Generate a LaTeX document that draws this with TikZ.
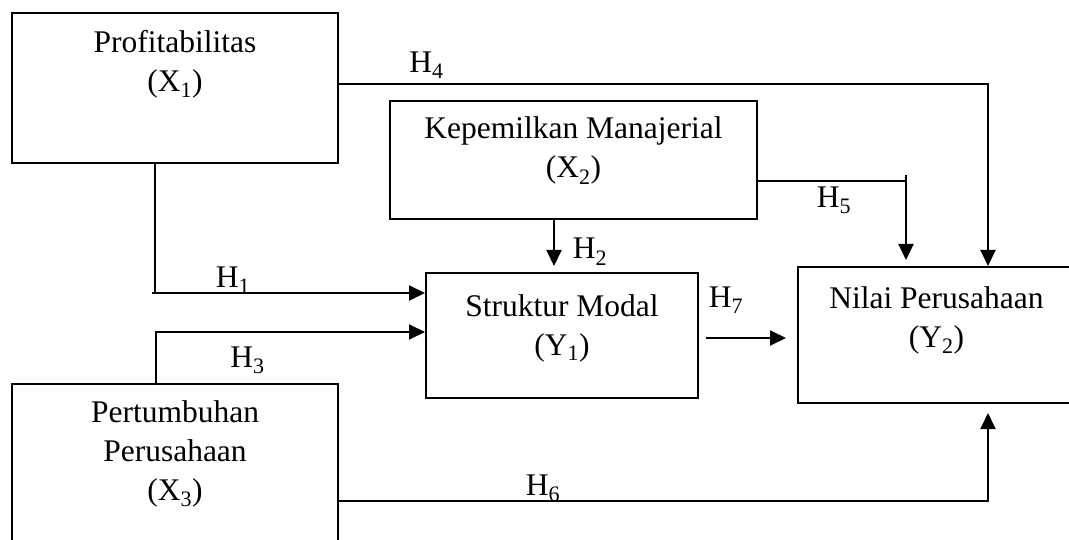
\documentclass[tikz,border=0pt]{standalone}
\usepackage{fontspec}
\setmainfont{Liberation Serif}
\usetikzlibrary{shapes.geometric, arrows.meta}
\tikzstyle{box} = [rectangle, draw=black, line width=2pt, inner sep=0pt]
\tikzstyle{txt} = [align=center, inner sep=0pt, anchor=base, font=\fontsize{31.5}{39}\selectfont]
\tikzstyle{hyp} = [anchor=base, inner sep=0pt, font=\fontsize{31.5}{39}\selectfont]
\tikzstyle{arrow} = [line width=2pt,-{Triangle[length=16pt,width=15pt]}]
\tikzstyle{line} = [line width=2pt]

\begin{document}
\begin{tikzpicture}[x=1pt, y=-1pt]
\useasboundingbox (0,0) rectangle (1069,540);
% variables
\node (prof) [box, minimum width=326pt, minimum height=150pt] at (175,88) {};
\node (kep) [box, minimum width=367pt, minimum height=118pt] at (573.5,160) {};
\node (sm) [box, minimum width=272pt, minimum height=125pt] at (562,335.5) {};
\node (nilai) [box, minimum width=277pt, minimum height=136pt] at (936.5,335) {};
\node (pert) [box, minimum width=326pt, minimum height=176pt] at (175,472) {};
\node (proftxt) [txt] at (175,92) {Profitabilitas\\(X\textsubscript{1})};
\node (keptxt) [txt] at (573.5,178) {Kepemilkan Manajerial\\(X\textsubscript{2})};
\node (smtxt) [txt] at (562,355) {Struktur Modal\\(Y\textsubscript{1})};
\node (niltxt) [txt] at (936.5,347) {Nilai Perusahaan\\(Y\textsubscript{2})};
\node (perttxt) [txt] at (175,500) {Pertumbuhan\\Perusahaan\\(X\textsubscript{3})};
% bends
\coordinate (h1c) at (155,293);
\coordinate (h1s) at (152,293);
\coordinate (h2c) at (554,219);
\coordinate (h3c) at (156,332);
\coordinate (h4c) at (988,84);
\coordinate (h5c) at (906,181);
\coordinate (h5t) at (906,175);
\coordinate (h6c) at (988,501);
\coordinate (h7c) at (705,338);
% paths
\draw [line] (prof.south -| h1c) -- (h1c);
\draw [arrow] (h1s) -- (sm.west |- h1s);
\draw [arrow, shorten >=6pt] (kep.south -| h2c) -- (sm.north -| h2c);
\draw [arrow] (pert.north -| h3c) |- (sm.west |- h3c);
\draw [arrow] (prof.east |- h4c) -| (nilai.north -| h4c);
\draw [arrow, shorten >=6pt] (kep.east |- h5c) -| (nilai.north -| h5c);
\draw [line] (h5t) -- (h5c);
\draw [arrow, shorten >=9pt] (pert.east |- h6c) -| (nilai.south -| h6c);
\draw [arrow, shorten <=7pt, shorten >=11pt] (sm.east |- h7c) -- (nilai.west |- h7c);
% hypotheses
\node (h1) [hyp] at (233,288) {H\textsubscript{1}};
\node (h2) [hyp] at (590,259) {H\textsubscript{2}};
\node (h3) [hyp] at (247.5,367) {H\textsubscript{3}};
\node (h4) [hyp] at (426.5,73) {H\textsubscript{4}};
\node (h5) [hyp] at (834,208) {H\textsubscript{5}};
\node (h6) [hyp] at (543,495) {H\textsubscript{6}};
\node (h7) [hyp] at (726,308) {H\textsubscript{7}};
\end{tikzpicture}
\end{document}
